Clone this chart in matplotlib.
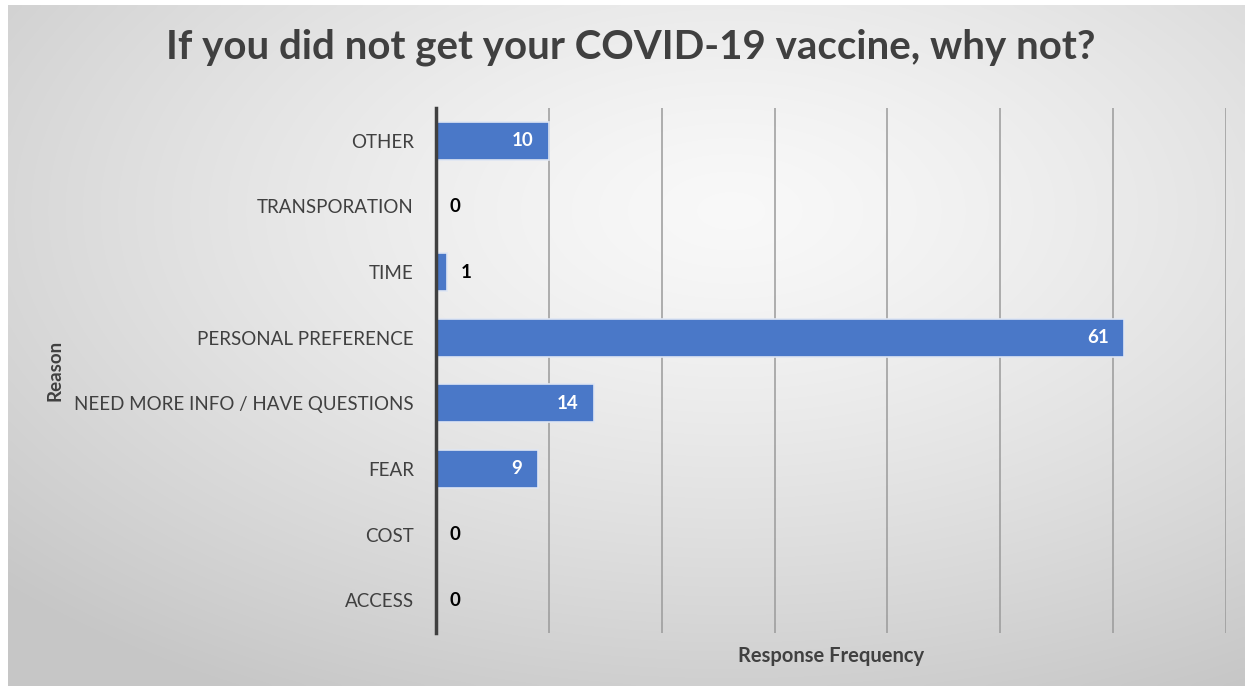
import numpy as np
import matplotlib
matplotlib.use("Agg")
import matplotlib.pyplot as plt

categories = ["ACCESS", "COST", "FEAR", "NEED MORE INFO / HAVE QUESTIONS",
              "PERSONAL PREFERENCE", "TIME", "TRANSPORATION", "OTHER"]
values = [0, 0, 9, 14, 61, 1, 0, 10]
x_ticks = [0, 10, 20, 30, 40, 50, 60, 70]

plt.rcParams['font.family'] = ['Lato', 'DejaVu Sans']
W, H = 1253, 691
fig = plt.figure(figsize=(W / 100, H / 100), dpi=100)
fig.patch.set_facecolor('white')

# gradient background panel
bg = fig.add_axes([8 / W, 1 - 686 / H, (1245 - 8) / W, (686 - 5) / H])
bg.set_axis_off()
yy, xx = np.mgrid[0:200, 0:360]
cx, cy = 210, 60
d = np.sqrt(((xx - cx) / 360) ** 2 + ((yy - cy) / 200) ** 2)
img = 0.975 - 0.26 * d ** 1.3
img = np.clip(img, 0.78, 0.98)
bg.imshow(np.dstack([img, img, img]), aspect='auto', extent=[0, 1, 0, 1],
          origin='upper', interpolation='bicubic')
bg.set_xlim(0, 1)
bg.set_ylim(0, 1)

ax = fig.add_axes([436 / W, 1 - 633 / H, (1226 - 436) / W, (633 - 108) / H])
ax.patch.set_alpha(0)
y = np.arange(len(categories))
bars = ax.barh(y, values, height=0.58, color='#4A78C8', edgecolor='#dfe6f3',
               linewidth=1.2, zorder=3)
ax.set_xlim(0, 70)
ax.set_ylim(-0.5, len(categories) - 0.5)
ax.set_xticks(x_ticks)
ax.set_xticklabels([])
ax.tick_params(axis='x', length=0)
ax.grid(axis='x', color='#9a9a9a', linewidth=1.1, zorder=0)
ax.set_yticks(y)
ax.set_yticklabels(categories, fontsize=13.5, color='#404040')
ax.tick_params(axis='y', length=0, pad=16)
for s in ['top', 'right', 'bottom']:
    ax.spines[s].set_visible(False)
ax.spines['left'].set_color('#404040')
ax.spines['left'].set_linewidth(2.5)
ax.spines['left'].set_zorder(4)

for yi, v in zip(y, values):
    if v >= 5:
        ax.text(v - 1.35, yi, str(v), ha='right', va='center', color='white',
                fontsize=13.5, fontweight='bold', zorder=5)
    else:
        ax.text(v + 1.2, yi, str(v), ha='left', va='center', color='black',
                fontsize=13.5, fontweight='bold', zorder=5)

ax.set_xlabel("Response Frequency", fontsize=14.5, fontweight='bold',
              color='#404040', labelpad=6)
fig.text(55 / W, 1 - 370 / H, "Reason", rotation=90, ha='center', va='center',
         fontsize=13.5, fontweight='bold', color='#404040')
fig.text(631 / W, 1 - 47 / H, "If you did not get your COVID-19 vaccine, why not?",
         ha='center', va='center', fontsize=29, fontweight='bold', color='#404040')

fig.savefig("out.png", dpi=100)
